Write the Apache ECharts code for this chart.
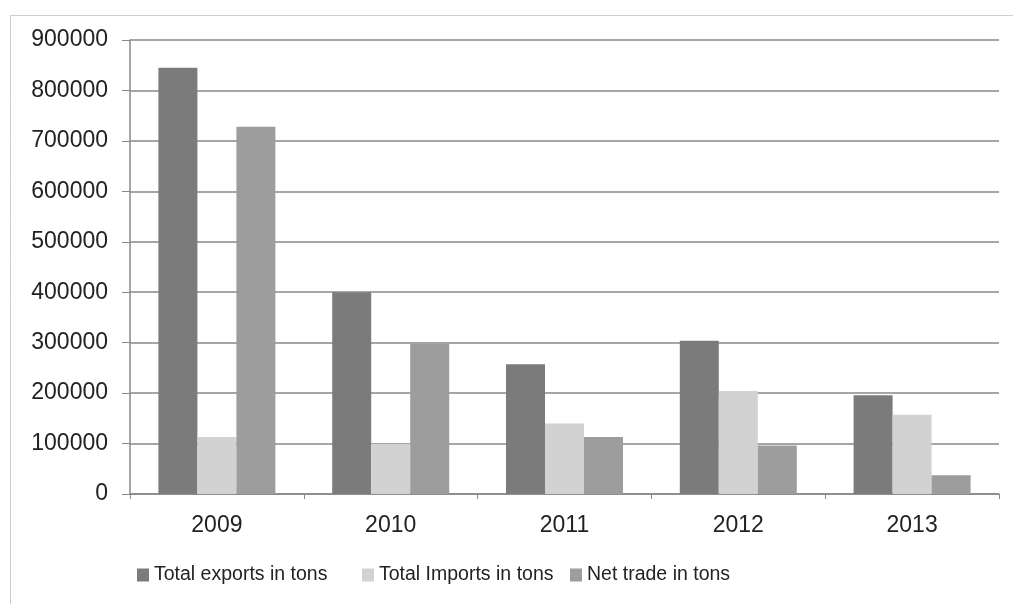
<!DOCTYPE html>
<html>
<head>
<meta charset="utf-8">
<script src="https://cdn.jsdelivr.net/npm/echarts@6/dist/echarts.min.js"></script>
<style>
  html, body { margin: 0; padding: 0; background: #fff; }
  #chart { width: 1013px; height: 604px; }
</style>
</head>
<body>
<div id="chart"></div>
<script>
const years = ['2009', '2010', '2011', '2012', '2013'];
const seriesNames = ['Total exports in tons', 'Total Imports in tons', 'Net trade in tons'];
const exportsTons = [845000, 400000, 257000, 304000, 196000];
const importsTons = [113000, 99000, 140000, 204000, 157000];
const netTradeTons = [728000, 298000, 113000, 96000, 37000];

const chart = echarts.init(document.getElementById('chart'));

const font = 'Liberation Sans, Arial, sans-serif';
// one legend box per entry so the uneven spacing of the original can be kept
const legendLefts = [137, 362, 570];

chart.setOption({
  backgroundColor: '#ffffff',
  animation: false,
  graphic: [{
    type: 'rect',
    left: 8, top: 13,
    shape: { width: 1010, height: 589 },
    style: { fill: 'none', stroke: '#9a9a9a', lineWidth: 1, lineDash: [1, 1] },
    silent: true
  }],
  grid: { left: 130, right: 14, top: 40, bottom: 110 },
  legend: seriesNames.map((name, i) => ({
    top: 565,
    left: legendLefts[i],
    padding: 0,
    itemWidth: 12,
    itemHeight: 13,
    itemGap: 0,
    icon: 'rect',
    textStyle: { fontFamily: font, fontSize: 19.5, color: '#222' },
    data: [name]
  })),
  xAxis: {
    type: 'category',
    data: years,
    axisLine: { lineStyle: { color: '#888', width: 1.5 } },
    axisTick: { show: true, length: 5, lineStyle: { color: '#888' } },
    axisLabel: { fontFamily: font, fontSize: 23, color: '#222', margin: 20 }
  },
  yAxis: {
    type: 'value',
    min: 0, max: 900000, interval: 100000,
    axisLine: { show: true, lineStyle: { color: '#888', width: 1.5 } },
    axisTick: { show: true, length: 8, lineStyle: { color: '#888' } },
    axisLabel: {
      fontFamily: font, fontSize: 23, color: '#222', margin: 22,
      formatter: v => String(v)
    },
    splitLine: { lineStyle: { color: '#888', width: 1.5 } }
  },
  series: [
    {
      name: seriesNames[0], type: 'bar', data: exportsTons,
      barWidth: 39, barGap: '0%', barCategoryGap: '33%',
      itemStyle: { color: '#7b7b7b' }
    },
    {
      name: seriesNames[1], type: 'bar', data: importsTons,
      barWidth: 39,
      itemStyle: { color: '#d2d2d2' }
    },
    {
      name: seriesNames[2], type: 'bar', data: netTradeTons,
      barWidth: 39,
      itemStyle: { color: '#9d9d9d' }
    }
  ]
});
</script>
</body>
</html>
